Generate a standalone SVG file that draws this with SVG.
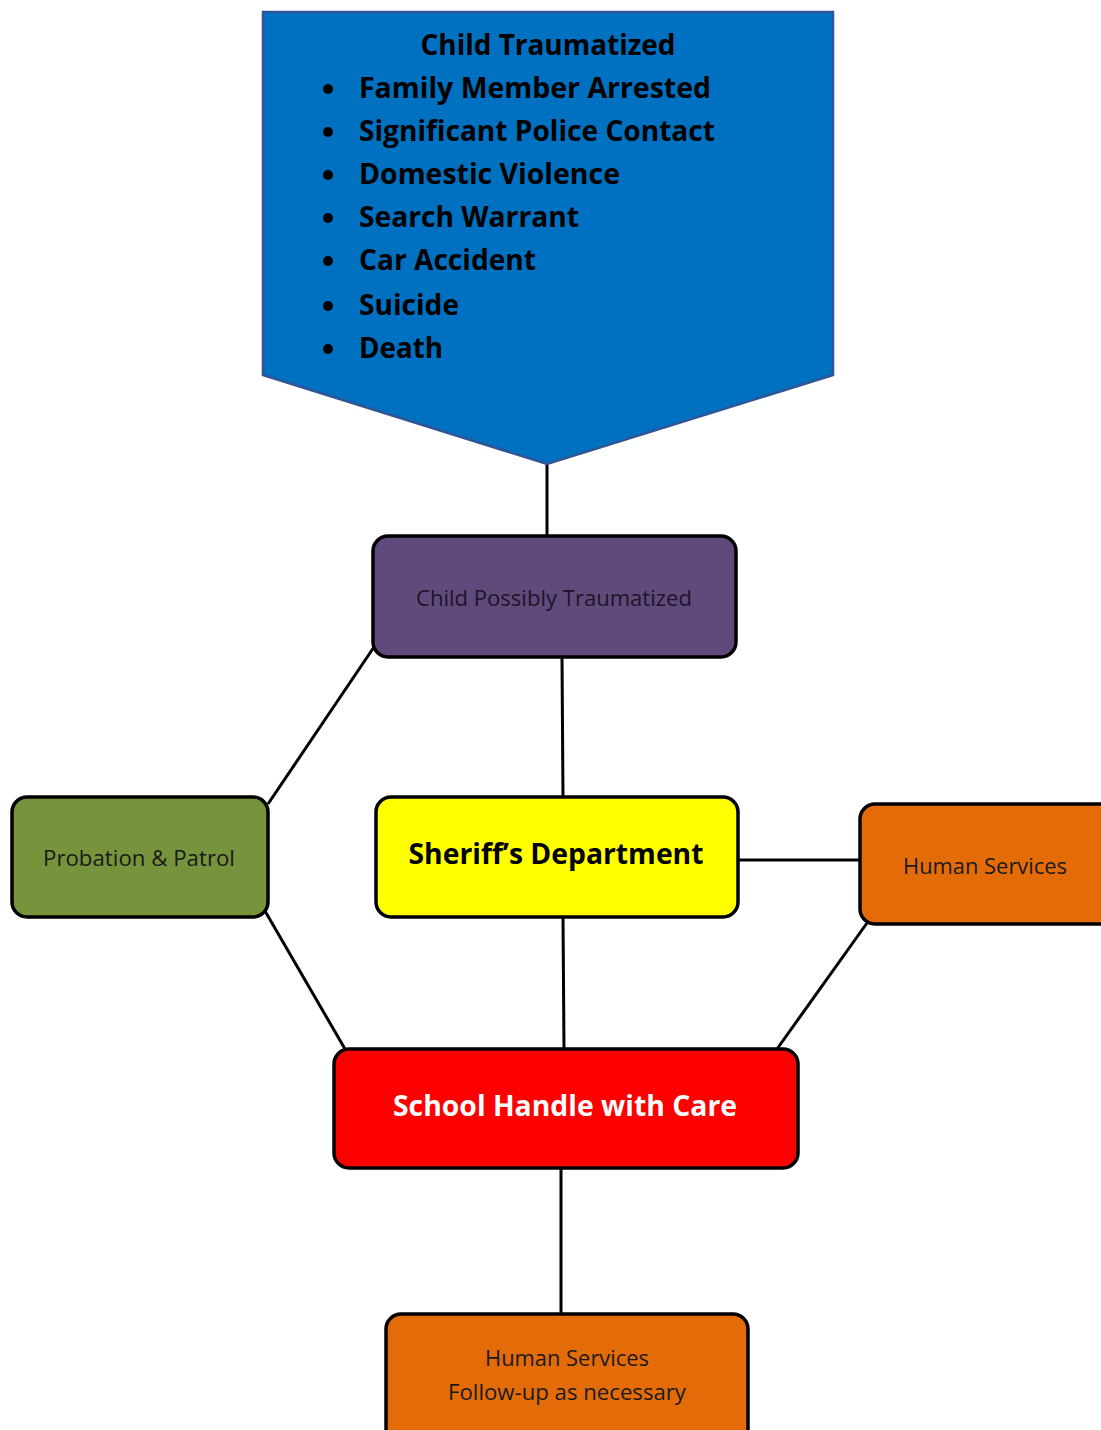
<svg xmlns="http://www.w3.org/2000/svg" width="1101" height="1430" viewBox="0 0 1101 1430">
<style>
.box{stroke:#000;stroke-width:3.5}
.t{font-family:"Open Sans","Noto Sans","Liberation Sans",sans-serif;text-anchor:middle}
.reg{font-size:21px;fill:#1a1a1a}
.bold{font-size:28px;font-weight:bold}
.lst{font-family:"Open Sans","Noto Sans","Liberation Sans",sans-serif;font-size:28px;font-weight:bold;fill:#000}
.conn line{stroke:#000;stroke-width:3}
</style>
<rect width="1101" height="1430" fill="#fff"/>
<g class="conn">
<line x1="547" y1="464" x2="547" y2="536"/>
<line x1="562" y1="657" x2="563" y2="797"/>
<line x1="374" y1="647" x2="268" y2="804"/>
<line x1="265" y1="911" x2="345" y2="1049"/>
<line x1="563" y1="917" x2="564" y2="1049"/>
<line x1="738" y1="860" x2="860" y2="860"/>
<line x1="867" y1="923" x2="777" y2="1049"/>
<line x1="561" y1="1168" x2="561" y2="1314"/>
</g>
<g id="child-traumatized">
<polygon points="263,12 833,12 833,375 547,464 263,375" fill="#0070C0" stroke="#2F5597" stroke-width="2.5"/>
<text class="lst" x="548" y="55" text-anchor="middle" textLength="255" lengthAdjust="spacingAndGlyphs">Child Traumatized</text>
<g fill="#000">
<circle cx="328" cy="89" r="5"/><circle cx="328" cy="132" r="5"/><circle cx="328" cy="175" r="5"/><circle cx="328" cy="218" r="5"/><circle cx="328" cy="261" r="5"/><circle cx="328" cy="306" r="5"/><circle cx="328" cy="349" r="5"/>
</g>
<text class="lst" x="359" y="98" textLength="352" lengthAdjust="spacingAndGlyphs">Family Member Arrested</text>
<text class="lst" x="359" y="141" textLength="356" lengthAdjust="spacingAndGlyphs">Significant Police Contact</text>
<text class="lst" x="359" y="184" textLength="261" lengthAdjust="spacingAndGlyphs">Domestic Violence</text>
<text class="lst" x="359" y="227" textLength="220" lengthAdjust="spacingAndGlyphs">Search Warrant</text>
<text class="lst" x="359" y="270" textLength="177" lengthAdjust="spacingAndGlyphs">Car Accident</text>
<text class="lst" x="359" y="315" textLength="100" lengthAdjust="spacingAndGlyphs">Suicide</text>
<text class="lst" x="359" y="358" textLength="84" lengthAdjust="spacingAndGlyphs">Death</text>
</g>
<g id="child-possibly">
<rect class="box" x="373" y="536" width="363" height="121" rx="15" fill="#604A7B"/>
<text class="t reg" x="554" y="606" textLength="276" lengthAdjust="spacingAndGlyphs" fill="#1c1528" style="fill:#1c1528">Child Possibly Traumatized</text>
</g>
<g id="probation">
<rect class="box" x="12" y="797" width="256" height="120" rx="15" fill="#77933C"/>
<text class="t reg" x="139" y="866" textLength="192" lengthAdjust="spacingAndGlyphs">Probation &amp; Patrol</text>
</g>
<g id="sheriff">
<rect class="box" x="376" y="797" width="362" height="120" rx="15" fill="#FFFF00"/>
<text class="t bold" x="556" y="864" textLength="295" lengthAdjust="spacingAndGlyphs" fill="#000">Sheriff’s Department</text>
</g>
<g id="human-services">
<rect class="box" x="860" y="804" width="260" height="120" rx="15" fill="#E36C09"/>
<text class="t reg" x="985" y="874" textLength="164" lengthAdjust="spacingAndGlyphs">Human Services</text>
</g>
<g id="school">
<rect class="box" x="334" y="1049" width="464" height="119" rx="15" fill="#FF0000"/>
<text class="t bold" x="565" y="1116" textLength="344" lengthAdjust="spacingAndGlyphs" fill="#fff" style="fill:#fff">School Handle with Care</text>
</g>
<g id="follow-up">
<rect class="box" x="386" y="1314" width="362" height="140" rx="15" fill="#E36C09"/>
<text class="t reg" x="567" y="1366" textLength="164" lengthAdjust="spacingAndGlyphs">Human Services</text>
<text class="t reg" x="567" y="1400" textLength="238" lengthAdjust="spacingAndGlyphs">Follow-up as necessary</text>
</g>
</svg>
